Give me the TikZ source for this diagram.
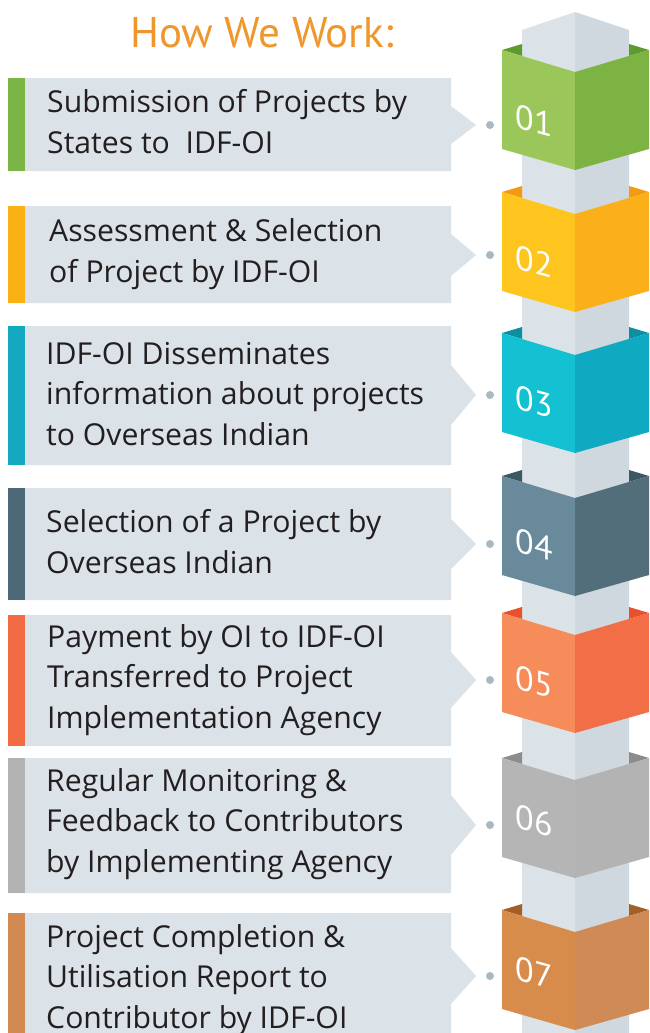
\documentclass[tikz,border=0pt]{standalone}
\usepackage{fontspec}
\setmainfont{PT Sans}
\newfontfamily\bodyfont{Open Sans}
\definecolor{boxbg}{HTML}{DCE3E8}
\definecolor{pilL}{HTML}{DCE3E8}
\definecolor{pilR}{HTML}{CFD8DE}
\definecolor{dotc}{HTML}{A9B9C3}
\definecolor{txt}{HTML}{231F20}
\definecolor{titlec}{HTML}{F0962A}
\definecolor{barA}{HTML}{7AB545}\definecolor{cAl}{HTML}{9BC75A}\definecolor{cAr}{HTML}{7DB343}\definecolor{cAf}{HTML}{5E9A2E}
\definecolor{barB}{HTML}{FBB116}\definecolor{cBl}{HTML}{FDC51E}\definecolor{cBr}{HTML}{FBB01A}\definecolor{cBf}{HTML}{F49A10}
\definecolor{barC}{HTML}{14A8C1}\definecolor{cCl}{HTML}{13C1D3}\definecolor{cCr}{HTML}{0FA9C1}\definecolor{cCf}{HTML}{0B8FA3}
\definecolor{barD}{HTML}{4D6877}\definecolor{cDl}{HTML}{688A9A}\definecolor{cDr}{HTML}{526E7B}\definecolor{cDf}{HTML}{3E5766}
\definecolor{barE}{HTML}{F26B43}\definecolor{cEl}{HTML}{F68C5A}\definecolor{cEr}{HTML}{F26E47}\definecolor{cEf}{HTML}{E8502E}
\definecolor{barF}{HTML}{B3B3B3}\definecolor{cFl}{HTML}{B5B5B5}\definecolor{cFr}{HTML}{B3B3B3}\definecolor{cFf}{HTML}{8C8C8C}
\definecolor{barG}{HTML}{D28A52}\definecolor{cGl}{HTML}{D78C4C}\definecolor{cGr}{HTML}{CF8A56}\definecolor{cGf}{HTML}{A26028}
% #1 top y, #2 left face, #3 right face, #4 flap, #5 number, #6 number centre y, #7 name
\newcommand\mycube[7]{%
  \fill[#4] (502,#1) -- (522,#1-6) -- (522,#1+6) -- cycle;
  \fill[#4] (629,#1-6) -- (649,#1) -- (629,#1+6) -- cycle;
  \fill[#2] (502,#1) -- (575,#1+22) -- (575,#1+120) -- (502,#1+99) -- cycle;
  \fill[#3] (575,#1+22) -- (649,#1) -- (649,#1+99) -- (575,#1+120) -- cycle;
  \node[numtext] (#7) at (534,#6) {#5};
}
% #1 top, #2 bottom, #3 centre, #4 half pointer, #5 bar colour, #6 dot name
\newcommand\mybox[6]{%
  \fill[boxbg] (8,#1) -- (451,#1) -- (451,#3-#4) -- (476,#3) -- (451,#3+#4) -- (451,#2) -- (8,#2) -- cycle;
  \fill[#5] (8,#1) rectangle (25,#2);
  \node[dotstyle] (#6) at (490,#3) {};
}
\begin{document}
\begin{tikzpicture}[x=1pt,y=-1pt,
  boxtext/.style={anchor=base west, inner sep=0pt, align=left, text=txt, font=\bodyfont\fontsize{30.2}{40.5}\selectfont},
  numtext/.style={text=white, font=\fontsize{34}{34}\selectfont, yslant=-0.28, inner sep=0pt},
  dotstyle/.style={circle, fill=dotc, minimum size=8pt, inner sep=0pt}]
\useasboundingbox (0,0) rectangle (649,1033);
\fill[white] (0,0) rectangle (649,1033);
% title
\node[anchor=base, text=titlec, font=\fontsize{43}{43}\selectfont, inner sep=0pt] (title) at (262,48) {How We Work:};
% pillar
\fill[pilL] (522,30) -- (575,12) -- (575,1033) -- (522,1033) -- cycle;
\fill[pilR] (575,12) -- (629,30) -- (629,1033) -- (575,1033) -- cycle;
% cubes
\mycube{50}{cAl}{cAr}{cAf}{01}{121}{n1}
\mycube{192}{cBl}{cBr}{cBf}{02}{262}{n2}
\mycube{333}{cCl}{cCr}{cCf}{03}{402}{n3}
\mycube{476}{cDl}{cDr}{cDf}{04}{545}{n4}
\mycube{613}{cEl}{cEr}{cEf}{05}{682}{n5}
\mycube{758}{cFl}{cFr}{cFf}{06}{821}{n6}
\mycube{910}{cGl}{cGr}{cGf}{07}{973}{n7}
% boxes
\mybox{78}{171}{125}{19}{barA}{d1}
\mybox{206}{303}{255}{21}{barB}{d2}
\mybox{326}{465}{395}{30}{barC}{d3}
\mybox{488}{600}{544}{25}{barD}{d4}
\mybox{615}{746}{680}{28}{barE}{d5}
\mybox{758}{893}{825}{30}{barF}{d6}
\mybox{913}{1040}{976}{28}{barG}{d7}
% texts (anchored at the baseline of the last line)
\node[boxtext] (t1) at (47,153) {Submission of Projects by\\States to\ \ IDF-OI};
\node[boxtext] (t2) at (49,282) {Assessment \& Selection\\of Project by IDF-OI};
\node[boxtext] (t3) at (46,445) {IDF-OI Disseminates\\information about projects\\to Overseas Indian};
\node[boxtext] (t4) at (46,573) {Selection of a Project by\\Overseas Indian};
\node[boxtext] (t5) at (47,728) {Payment by OI to IDF-OI\\Transferred to Project\\Implementation Agency};
\node[boxtext] (t6) at (46,872) {Regular Monitoring \&\\Feedback to Contributors\\by Implementing Agency};
\node[boxtext] (t7) at (46,1028) {Project Completion \&\\Utilisation Report to\\Contributor by IDF-OI};
\end{tikzpicture}
\end{document}
